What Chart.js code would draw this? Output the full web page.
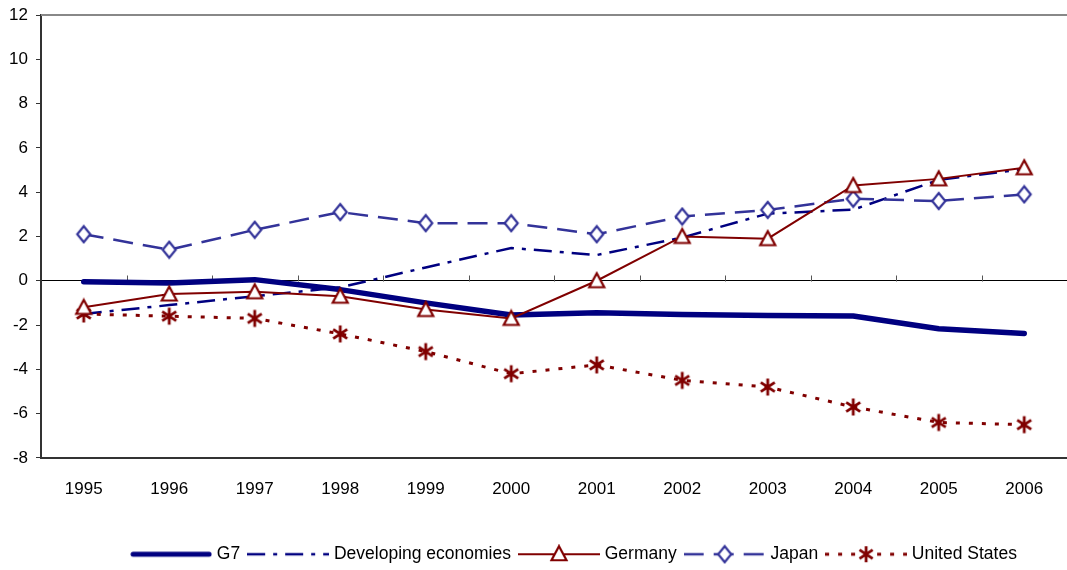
<!DOCTYPE html>
<html>
<head>
<meta charset="utf-8">
<script src="https://cdn.jsdelivr.net/npm/chart.js@4.4.1/dist/chart.umd.min.js"></script>
<style>
html,body{margin:0;padding:0;background:#fff;}
#wrap{width:1067px;height:570px;position:relative;}
</style>
</head>
<body>
<div id="wrap"><canvas id="c" width="1067" height="570"></canvas></div>
<script>
const years = ['1995','1996','1997','1998','1999','2000','2001','2002','2003','2004','2005','2006'];
const g7 = [-0.05, -0.1, 0.05, -0.4, -1.0, -1.55, -1.45, -1.53, -1.57, -1.59, -2.17, -2.38];
const developing = [-1.5, -1.1, -0.7, -0.3, 0.6, 1.48, 1.16, 1.95, 3.03, 3.21, 4.55, 5.05];
const germany = [-1.2, -0.6, -0.5, -0.7, -1.3, -1.7, 0.0, 2.0, 1.9, 4.3, 4.6, 5.1];
const japan = [2.1, 1.4, 2.3, 3.1, 2.6, 2.6, 2.1, 2.9, 3.2, 3.7, 3.6, 3.9];
const us = [-1.5, -1.6, -1.7, -2.4, -3.2, -4.2, -3.8, -4.5, -4.8, -5.7, -6.4, -6.5];
const seriesNames = ['G7', 'Developing economies', 'Germany', 'Japan', 'United States'];
const yTicks = [-8, -6, -4, -2, 0, 2, 4, 6, 8, 10, 12];

const FONT = "'Liberation Sans', Arial, sans-serif";
const NAVY = '#000080', RED = '#800000', JBLUE = '#333399';

function drawStar(ctx, cx, cy, r) {
  ctx.save();
  ctx.strokeStyle = RED; ctx.lineWidth = 2.8; ctx.lineCap = 'butt';
  ctx.beginPath();
  ctx.moveTo(cx, cy - r); ctx.lineTo(cx, cy + r);
  const dx = r * Math.cos(Math.PI / 6) * 0.95, dy = r * Math.sin(Math.PI / 6) * 1.1;
  ctx.moveTo(cx - dx, cy - dy); ctx.lineTo(cx + dx, cy + dy);
  ctx.moveTo(cx - dx, cy + dy); ctx.lineTo(cx + dx, cy - dy);
  ctx.stroke();
  ctx.restore();
}
function drawTri(ctx, cx, cy) {
  ctx.save();
  ctx.fillStyle = '#fff'; ctx.strokeStyle = RED; ctx.lineWidth = 2.2;
  ctx.beginPath();
  ctx.moveTo(cx, cy - 8); ctx.lineTo(cx + 7.5, cy + 6); ctx.lineTo(cx - 7.5, cy + 6); ctx.closePath();
  ctx.fill(); ctx.stroke();
  ctx.restore();
}
function drawDia(ctx, cx, cy) {
  ctx.save();
  ctx.fillStyle = '#fff'; ctx.strokeStyle = JBLUE; ctx.lineWidth = 2.2;
  ctx.beginPath();
  ctx.moveTo(cx, cy - 8); ctx.lineTo(cx + 6.5, cy); ctx.lineTo(cx, cy + 8); ctx.lineTo(cx - 6.5, cy); ctx.closePath();
  ctx.fill(); ctx.stroke();
  ctx.restore();
}

function mkCanvas(w, h) { const c = document.createElement('canvas'); c.width = w; c.height = h; return c; }

const starImg = mkCanvas(20, 20);
drawStar(starImg.getContext('2d'), 10, 10, 8.5);
const triImg = mkCanvas(20, 20);
drawTri(triImg.getContext('2d'), 10, 10.5);
const diaImg = mkCanvas(18, 20);
drawDia(diaImg.getContext('2d'), 9, 10);

function legendImg(color, width, dash, marker) {
  const c = mkCanvas(82, 20);
  const ctx = c.getContext('2d');
  ctx.strokeStyle = color; ctx.lineWidth = width; ctx.setLineDash(dash);
  ctx.lineCap = width > 3 ? 'round' : 'butt';
  ctx.beginPath();
  const s = width > 3 ? 3 : 0;
  ctx.moveTo(s, 10); ctx.lineTo(82 - s, 10); ctx.stroke();
  ctx.setLineDash([]);
  if (marker) marker(ctx, 41, 10);
  return c;
}
const DEV_DASH = [18, 8, 4, 8], JP_DASH = [20, 10], US_DASH = [4, 9];
const legendImgs = [
  legendImg(NAVY, 5, [], null),
  legendImg(NAVY, 2.5, DEV_DASH, null),
  legendImg(RED, 2, [], drawTri),
  legendImg(JBLUE, 2.5, JP_DASH, drawDia),
  legendImg(RED, 3, US_DASH, (ctx, x, y) => drawStar(ctx, x, y, 8))
];

const decor = {
  id: 'decor',
  afterLayout(chart) {
    chart.legend.left += 42; chart.legend.right += 42;
  },
  beforeDatasetsDraw(chart) {
    const x = chart.scales.x, y = chart.scales.y, ctx = chart.ctx;
    const y0 = Math.round(y.getPixelForValue(0)) + 0.5;
    const step = x.getPixelForValue(1) - x.getPixelForValue(0);
    ctx.save();
    ctx.strokeStyle = '#555'; ctx.lineWidth = 1;
    ctx.beginPath();
    for (let i = 1; i < years.length; i++) {
      const px = Math.round(x.getPixelForValue(i) - step / 2) + 0.5;
      ctx.moveTo(px, y0); ctx.lineTo(px, y0 - 6);
    }
    ctx.stroke();
    ctx.restore();
  },
  afterDraw(chart) {
    const a = chart.chartArea, ctx = chart.ctx;
    ctx.save();
    ctx.strokeStyle = '#888'; ctx.lineWidth = 2;
    ctx.beginPath(); ctx.moveTo(a.left, a.top); ctx.lineTo(a.right, a.top); ctx.stroke();
    ctx.restore();
  }
};

new Chart(document.getElementById('c'), {
  type: 'line',
  data: {
    labels: years,
    datasets: [
      { label: seriesNames[0], data: g7, borderColor: NAVY, borderWidth: 5.5, pointRadius: 0, borderCapStyle: 'round', borderJoinStyle: 'round', order: 4 },
      { label: seriesNames[1], data: developing, borderColor: NAVY, borderWidth: 2.5, borderDash: DEV_DASH, pointRadius: 0, order: 5 },
      { label: seriesNames[2], data: germany, borderColor: RED, borderWidth: 2, pointStyle: triImg, pointRadius: 9, order: 1 },
      { label: seriesNames[3], data: japan, borderColor: JBLUE, borderWidth: 2.5, borderDash: JP_DASH, pointStyle: diaImg, pointRadius: 8, order: 2 },
      { label: seriesNames[4], data: us, borderColor: RED, borderWidth: 3, borderDash: US_DASH, pointStyle: starImg, pointRadius: 9, order: 3 }
    ]
  },
  options: {
    responsive: false,
    animation: false,
    devicePixelRatio: 1,
    layout: { autoPadding: false, padding: { top: 15, left: 0, right: 0, bottom: -3 } },
    plugins: {
      tooltip: { enabled: false },
      legend: {
        position: 'bottom',
        labels: {
          usePointStyle: true,
          pointStyleWidth: 74,
          padding: 11,
          color: '#000',
          font: { family: FONT, size: 17.5 },
          generateLabels(chart) {
            return chart.data.datasets.map((ds, i) => ({
              text: ds.label,
              pointStyle: legendImgs[i],
              fillStyle: 'transparent',
              strokeStyle: 'transparent',
              lineWidth: 0,
              hidden: false,
              datasetIndex: i,
              fontColor: '#000'
            }));
          }
        }
      }
    },
    scales: {
      x: {
        offset: true,
        grid: { display: false, drawTicks: false },
        border: { display: true, color: '#333', width: 2 },
        ticks: { color: '#000', font: { family: FONT, size: 17 }, padding: 21, maxRotation: 0, autoSkip: false },
        afterFit(s) { s.height = 76.6; s.paddingLeft = 0; s.paddingRight = 0; }
      },
      y: {
        min: -8, max: 12,
        afterBuildTicks(s) { s.ticks = yTicks.map(v => ({ value: v })); },
        grid: {
          color: ctx => (ctx.tick && ctx.tick.value === 0) ? '#000' : 'rgba(0,0,0,0)',
          lineWidth: 1,
          drawTicks: true, tickLength: 5, tickColor: '#333'
        },
        border: { display: true, color: '#333', width: 2 },
        ticks: { color: '#000', font: { family: FONT, size: 17 }, padding: 8 },
        afterFit(s) { s.width = 41; s.paddingTop = 0; s.paddingBottom = 0; }
      }
    }
  },
  plugins: [decor]
});
</script>
</body>
</html>
